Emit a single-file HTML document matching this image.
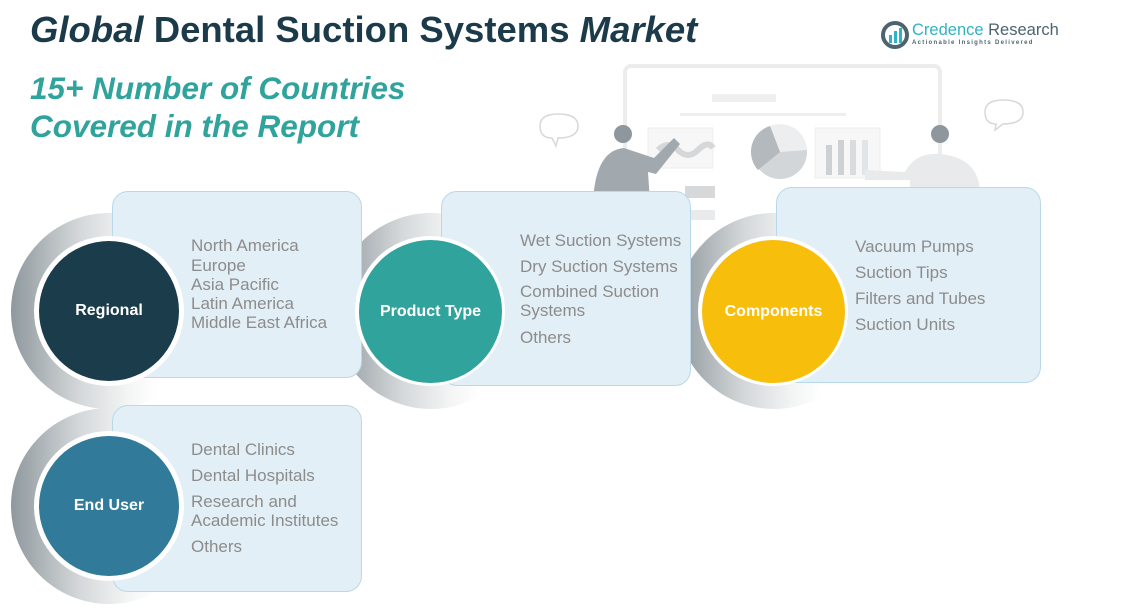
<!DOCTYPE html>
<html><head><meta charset="utf-8"><style>
*{margin:0;padding:0;box-sizing:border-box}
body{width:1132px;height:611px;background:#fff;position:relative;overflow:hidden;font-family:"Liberation Sans",sans-serif}
.a{position:absolute}
.card{position:absolute;background:#e3eff6;border:1.5px solid #b9d8e8;border-radius:16px}
.ring{position:absolute;border-radius:50%;background:linear-gradient(90deg,#8f989d 0%,#d4d8da 35%,#f4f5f5 60%,#fff 75%)}
.wd{position:absolute;border-radius:50%;background:#fff}
.c{position:absolute;border-radius:50%;color:#fff;font-weight:bold;font-size:16px;display:flex;align-items:center;justify-content:center}
.t{position:absolute;color:#8c8c8c;font-size:17px;line-height:20px;white-space:nowrap}
</style></head><body>
<div class="a" style="left:30px;top:9px;font-size:36.5px;font-weight:bold;color:#1c3b4a;white-space:nowrap"><i>Global</i> Dental Suction Systems <i>Market</i></div>
<div class="a" style="left:30px;top:69px;font-size:31.5px;font-weight:bold;font-style:italic;color:#2fa39c;line-height:38px">15+ Number of Countries<br>Covered in the Report</div>
<!-- logo -->
<svg class="a" style="left:880px;top:20px" width="30" height="30" viewBox="0 0 30 30"><circle cx="15" cy="15" r="12" fill="none" stroke="#4d6470" stroke-width="4"/><rect x="9" y="15" width="3" height="8" fill="#2fb3c4"/><rect x="14" y="11" width="3" height="12" fill="#2fb3c4"/><rect x="19" y="8" width="3" height="15" fill="#2fb3c4"/></svg>
<div class="a" style="left:912px;top:21px;font-size:16.5px;color:#2fb3c4;white-space:nowrap">Credence <span style="color:#4d6470">Research</span></div>
<div class="a" style="left:912px;top:40px;font-size:6px;color:#4d6470;letter-spacing:1.3px;font-weight:bold;white-space:nowrap">Actionable Insights Delivered</div>
<!-- illustration -->
<svg class="a" style="left:520px;top:60px" width="540" height="300" viewBox="0 0 540 300">
<rect x="105" y="6" width="315" height="260" rx="6" fill="#fff" stroke="#ececec" stroke-width="4"/>
<rect x="192" y="34" width="64" height="8" fill="#efefef"/>
<rect x="160" y="53" width="166" height="3" fill="#efefef"/>
<rect x="128" y="68" width="65" height="40" fill="#f7f7f7" stroke="#ececec"/>
<path d="M138 90 q10 -10 20 0 t20 0 t15 -2" stroke="#d5d7d9" stroke-width="6" fill="none"/>
<circle cx="260" cy="92" r="27" fill="#d3d6d8"/><path d="M260 92 L250 66 A27 27 0 0 1 287 90 Z" fill="#eceeef"/><path d="M260 92 L250 66 A27 27 0 0 0 238 110 Z" fill="#b3b9bd"/>
<rect x="295" y="68" width="65" height="50" fill="#f7f7f7" stroke="#ececec"/>
<rect x="306" y="85" width="6" height="30" fill="#cdd1d4"/><rect x="318" y="80" width="6" height="35" fill="#cdd1d4"/><rect x="330" y="80" width="6" height="35" fill="#d8dcde"/><rect x="342" y="80" width="6" height="35" fill="#e2e5e7"/>
<rect x="165" y="126" width="30" height="12" fill="#d6d8da"/><rect x="165" y="150" width="30" height="10" fill="#e9eaeb"/>
<path d="M20 66 q0 -12 18 -12 q20 0 20 12 q0 12 -20 12 l-2 8 l-4 -8 q-12 0 -12 -12z" fill="#fff" stroke="#d8d8d8" stroke-width="1.5"/>
<path d="M465 52 q0 -12 18 -12 q20 0 20 12 q0 12 -20 12 l-8 6 l1 -6 q-11 0 -11 -12z" fill="#fff" stroke="#d8d8d8" stroke-width="1.5"/>
<circle cx="103" cy="74" r="9" fill="#8e979d"/>
<path d="M74 130 q5 -40 30 -42 l30 10 l20 -20 l6 6 l-24 30 l-8 -2 l2 30 l-58 0z" fill="#a2a9ae"/>
<circle cx="420" cy="74" r="9" fill="#8e979d"/>
<path d="M345 110 l40 2 q10 -20 35 -18 q40 4 40 40 l-70 0 l0 -14 l-45 0z" fill="#e8eaec"/>
</svg>
<!-- rings behind cards -->
<div class="ring" style="left:11px;top:213px;width:196px;height:196px"></div>
<div class="ring" style="left:333px;top:213px;width:196px;height:196px"></div>
<div class="ring" style="left:676px;top:213px;width:196px;height:196px"></div>
<div class="ring" style="left:11px;top:408px;width:196px;height:196px"></div>
<!-- Regional -->
<div class="card" style="left:112px;top:191px;width:250px;height:187px"></div>
<div class="wd" style="left:34px;top:236px;width:150px;height:150px"></div>
<div class="c" style="left:39px;top:241px;width:140px;height:140px;background:#1b3c4b">Regional</div>
<div class="t" style="left:191px;top:236px">North America</div>
<div class="t" style="left:191px;top:256px">Europe</div>
<div class="t" style="left:191px;top:275px">Asia Pacific</div>
<div class="t" style="left:191px;top:294px">Latin America</div>
<div class="t" style="left:191px;top:313px">Middle East Africa</div>
<!-- Product -->
<div class="card" style="left:441px;top:191px;width:250px;height:195px"></div>
<div class="wd" style="left:355px;top:236px;width:150px;height:150px"></div>
<div class="c" style="left:359px;top:240px;width:143px;height:143px;background:#2fa39c">Product Type</div>
<div class="t" style="left:520px;top:231px">Wet Suction Systems</div>
<div class="t" style="left:520px;top:257px">Dry Suction Systems</div>
<div class="t" style="left:520px;top:282px">Combined Suction</div>
<div class="t" style="left:520px;top:301px">Systems</div>
<div class="t" style="left:520px;top:328px">Others</div>
<!-- Components -->
<div class="card" style="left:776px;top:187px;width:265px;height:196px"></div>
<div class="wd" style="left:698px;top:236px;width:150px;height:150px"></div>
<div class="c" style="left:702px;top:240px;width:143px;height:143px;background:#f8be0c">Components</div>
<div class="t" style="left:855px;top:237px">Vacuum Pumps</div>
<div class="t" style="left:855px;top:263px">Suction Tips</div>
<div class="t" style="left:855px;top:289px">Filters and Tubes</div>
<div class="t" style="left:855px;top:315px">Suction Units</div>
<!-- End User -->
<div class="card" style="left:112px;top:405px;width:250px;height:187px"></div>
<div class="wd" style="left:34px;top:431px;width:150px;height:150px"></div>
<div class="c" style="left:39px;top:436px;width:140px;height:140px;background:#327a99">End User</div>
<div class="t" style="left:191px;top:440px">Dental Clinics</div>
<div class="t" style="left:191px;top:466px">Dental Hospitals</div>
<div class="t" style="left:191px;top:492px">Research and</div>
<div class="t" style="left:191px;top:511px">Academic Institutes</div>
<div class="t" style="left:191px;top:537px">Others</div>
</body></html>
